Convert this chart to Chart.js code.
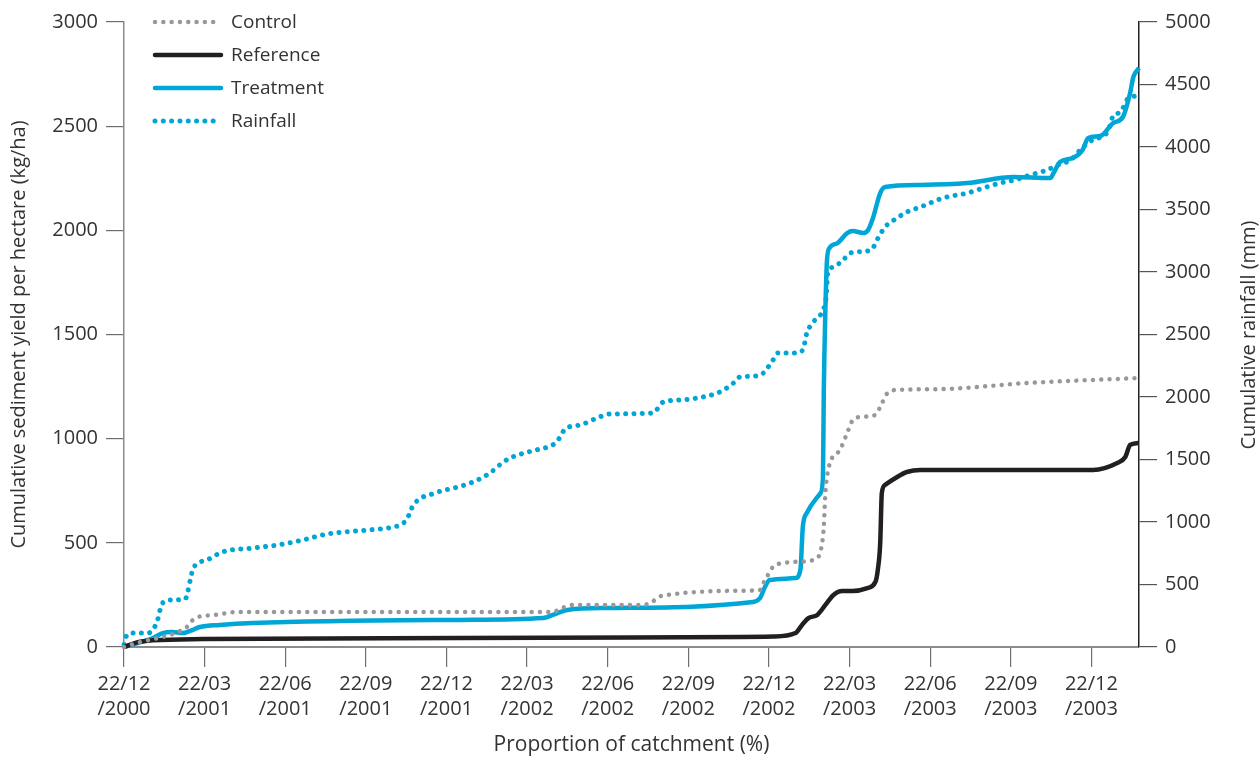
<!DOCTYPE html>
<html>
<head>
<meta charset="utf-8">
<script src="https://cdn.jsdelivr.net/npm/chart.js@4.4.0/dist/chart.umd.min.js"></script>
<style>
html, body { margin: 0; padding: 0; background: #fff; }
#wrap { width: 1259px; height: 758px; }
</style>
</head>
<body>
<div id="wrap"><canvas id="sedimentChart" width="1259" height="758"></canvas></div>

<script>
// x values are in quarters since 22/12/2000 (tick every 3 months)
const tickLabels = [
    ['22/12', '/2000'], ['22/03', '/2001'], ['22/06', '/2001'], ['22/09', '/2001'],
    ['22/12', '/2001'], ['22/03', '/2002'], ['22/06', '/2002'], ['22/09', '/2002'],
    ['22/12', '/2002'], ['22/03', '/2003'], ['22/06', '/2003'], ['22/09', '/2003'],
    ['22/12', '/2003']
];
const xEnd = 12.59;

// cumulative sediment yield (kg/ha), left axis
const controlPts = [
    [0, 0], [0.20, 24], [0.48, 48], [0.67, 72], [0.78, 96], [0.84, 125], [0.92, 144],
    [1.13, 154], [1.41, 168], [5.32, 168], [5.43, 187], [5.57, 202], [6.44, 202],
    [6.55, 216], [6.63, 240], [6.74, 250], [7.64, 270], [7.89, 274], [7.92, 298],
    [7.98, 340], [8.05, 385], [8.18, 403], [8.39, 410], [8.60, 427], [8.66, 499],
    [8.68, 576], [8.70, 739], [8.72, 816], [8.76, 888], [8.88, 946], [8.97, 1027],
    [9.04, 1090], [9.13, 1104], [9.32, 1114], [9.38, 1152], [9.47, 1219], [9.59, 1234],
    [10.12, 1238], [11.20, 1267], [12.57, 1291]
];
const referencePts = [
    [0, 0], [0.16, 22], [0.36, 32], [0.98, 38], [4.17, 43], [7.64, 48], [8.05, 50],
    [8.33, 67], [8.41, 106], [8.49, 139], [8.60, 154], [8.70, 202], [8.80, 250],
    [8.91, 269], [9.04, 269], [9.22, 283], [9.32, 312], [9.35, 370], [9.38, 499],
    [9.40, 739], [9.44, 778], [9.59, 816], [9.71, 840], [9.88, 850], [12.02, 850],
    [12.32, 883], [12.42, 912], [12.48, 970], [12.58, 979]
];
const treatmentPts = [
    [0, 0], [0.36, 43], [0.48, 67], [0.60, 72], [0.73, 67], [0.82, 77], [0.94, 96],
    [1.19, 106], [1.60, 115], [4.17, 130], [5.20, 139], [5.32, 154], [5.50, 178],
    [5.99, 187], [7.80, 216], [7.89, 235], [7.95, 288], [8.01, 322], [8.33, 331],
    [8.39, 370], [8.42, 576], [8.47, 643], [8.64, 739], [8.67, 816], [8.68, 1219],
    [8.70, 1618], [8.72, 1858], [8.75, 1915], [8.85, 1939], [8.97, 1987], [9.04, 1997],
    [9.17, 1987], [9.23, 2002], [9.29, 2059], [9.38, 2179], [9.44, 2208], [9.88, 2218],
    [10.46, 2227], [11.03, 2256], [11.49, 2251], [11.53, 2275], [11.61, 2328],
    [11.77, 2347], [11.89, 2386], [11.96, 2443], [12.11, 2453], [12.27, 2515],
    [12.39, 2544], [12.48, 2659], [12.52, 2736], [12.59, 2779]
];
// cumulative rainfall (mm), right axis
const rainfallPts = [
    [0, 20], [0.012, 64], [0.10, 112], [0.30, 112], [0.38, 160], [0.42, 224], [0.47, 344],
    [0.57, 376], [0.76, 384], [0.79, 440], [0.83, 560], [0.86, 632], [1.03, 696],
    [1.22, 760], [1.60, 792], [1.91, 816], [2.22, 856], [2.52, 904], [3.03, 936],
    [3.34, 960], [3.45, 984], [3.51, 1024], [3.59, 1136], [3.86, 1232], [4.14, 1280],
    [4.33, 1320], [4.54, 1392], [4.69, 1472], [4.79, 1512], [5.16, 1584], [5.26, 1600],
    [5.35, 1632], [5.41, 1680], [5.47, 1744], [5.66, 1776], [5.84, 1824], [6.03, 1864],
    [6.56, 1872], [6.69, 1960], [6.90, 1976], [7.18, 2000], [7.39, 2040], [7.56, 2112],
    [7.64, 2160], [7.85, 2168], [7.93, 2192], [8.05, 2296], [8.11, 2352], [8.33, 2352],
    [8.42, 2376], [8.47, 2512], [8.55, 2600], [8.67, 2696], [8.71, 2800], [8.73, 2992],
    [8.80, 3040], [8.92, 3096], [9.01, 3152], [9.22, 3168], [9.29, 3192], [9.34, 3256],
    [9.44, 3360], [9.59, 3432], [9.71, 3480], [9.88, 3520], [10.16, 3592], [10.46, 3632],
    [10.66, 3672], [10.87, 3712], [11.05, 3736], [11.24, 3776], [11.45, 3816],
    [11.58, 3856], [11.74, 3896], [11.86, 3976], [12.01, 4056], [12.20, 4120],
    [12.27, 4248], [12.36, 4280], [12.46, 4392], [12.57, 4408]
];

const BLUE = '#00a6d6';
const GREY = '#98989c';
const BLACK = '#231f20';
const TEXT = '#333333';
const FONT = "'Open Sans', 'Noto Sans', sans-serif";

function toXY(pts) {
    return pts.map(p => ({ x: p[0], y: p[1] }));
}

// legend drawn inside the plot, top left
const innerLegend = {
    id: 'innerLegend',
    afterDraw(chart) {
        const ctx = chart.ctx;
        ctx.save();
        chart.data.datasets.forEach((ds, i) => {
            const y = 22 + i * 33;
            ctx.beginPath();
            ctx.strokeStyle = ds.borderColor;
            ctx.lineWidth = ds.borderWidth;
            ctx.lineCap = 'round';
            ctx.setLineDash(ds.borderDash || []);
            ctx.moveTo(155, y);
            ctx.lineTo(221, y);
            ctx.stroke();
            ctx.setLineDash([]);
            ctx.fillStyle = TEXT;
            ctx.font = '19px ' + FONT;
            ctx.textBaseline = 'middle';
            ctx.textAlign = 'left';
            ctx.fillText(ds.label, 231, y + 1);
        });
        // right axis title, reading bottom to top
        ctx.translate(1249, 335);
        ctx.rotate(-Math.PI / 2);
        ctx.textAlign = 'center';
        ctx.textBaseline = 'middle';
        ctx.font = '20px ' + FONT;
        ctx.fillText('Cumulative rainfall (mm)', 0, 0);
        ctx.restore();
    }
};

const ctx = document.getElementById('sedimentChart').getContext('2d');
const chart = new Chart(ctx, {
    type: 'line',
    data: {
        datasets: [{
            label: 'Control',
            data: toXY(controlPts),
            yAxisID: 'y',
            borderColor: GREY,
            borderWidth: 4.5,
            borderDash: [0.01, 8.3],
            borderCapStyle: 'round'
        }, {
            label: 'Reference',
            data: toXY(referencePts),
            yAxisID: 'y',
            borderColor: BLACK,
            borderWidth: 4.5
        }, {
            label: 'Treatment',
            data: toXY(treatmentPts),
            yAxisID: 'y',
            borderColor: BLUE,
            borderWidth: 4.5
        }, {
            label: 'Rainfall',
            data: toXY(rainfallPts),
            yAxisID: 'y2',
            borderColor: BLUE,
            borderWidth: 5,
            borderDash: [0.01, 8.3],
            borderCapStyle: 'round'
        }]
    },
    options: {
        responsive: false,
        animation: false,
        layout: { padding: { top: 22, left: 0, right: 0, bottom: 0 } },
        elements: {
            point: { radius: 0 },
            line: { cubicInterpolationMode: 'monotone', fill: false, borderJoinStyle: 'round' }
        },
        datasets: { line: { clip: false } },
        plugins: {
            legend: { display: false },
            tooltip: { enabled: false }
        },
        scales: {
            x: {
                type: 'linear',
                min: 0,
                max: xEnd,
                afterFit(scale) { scale.height = 111; },
                afterBuildTicks(scale) {
                    scale.ticks = tickLabels.map((_, i) => ({ value: i }));
                },
                ticks: {
                    callback: v => tickLabels[Math.round(v)],
                    color: TEXT,
                    font: { family: FONT, size: 20, lineHeight: 1.25 },
                    padding: 5,
                    maxRotation: 0,
                    autoSkip: false
                },
                grid: { drawOnChartArea: false, tickLength: 20, color: '#6e6e6e', lineWidth: 1.2 },
                border: { display: true, color: '#8c8c8c', width: 2 },
                title: {
                    display: true,
                    text: 'Proportion of catchment (%)',
                    color: TEXT,
                    font: { family: FONT, size: 21 },
                    padding: { top: 14, bottom: 0 }
                }
            },
            y: {
                position: 'left',
                min: 0,
                max: 3000,
                afterFit(scale) { scale.width = 124; },
                ticks: {
                    stepSize: 500,
                    callback: v => String(v),
                    color: TEXT,
                    font: { family: FONT, size: 20 },
                    padding: 8
                },
                grid: { drawOnChartArea: false, tickLength: 18, color: '#6e6e6e', lineWidth: 1.2 },
                border: { display: true, color: '#8c8c8c', width: 1.5 },
                title: {
                    display: true,
                    text: 'Cumulative sediment yield per hectare (kg/ha)',
                    color: TEXT,
                    font: { family: FONT, size: 20 },
                    padding: { top: 7, bottom: 0 }
                }
            },
            y2: {
                position: 'right',
                min: 0,
                max: 5000,
                afterFit(scale) { scale.width = 120; },
                ticks: {
                    stepSize: 500,
                    callback: v => String(v),
                    color: TEXT,
                    font: { family: FONT, size: 20 },
                    padding: 8
                },
                grid: { drawOnChartArea: false, tickLength: 18, color: '#555', lineWidth: 1.2 },
                border: { display: true, color: '#222', width: 1.5 }
            }
        }
    },
    plugins: [innerLegend]
});
</script>
</body>
</html>
